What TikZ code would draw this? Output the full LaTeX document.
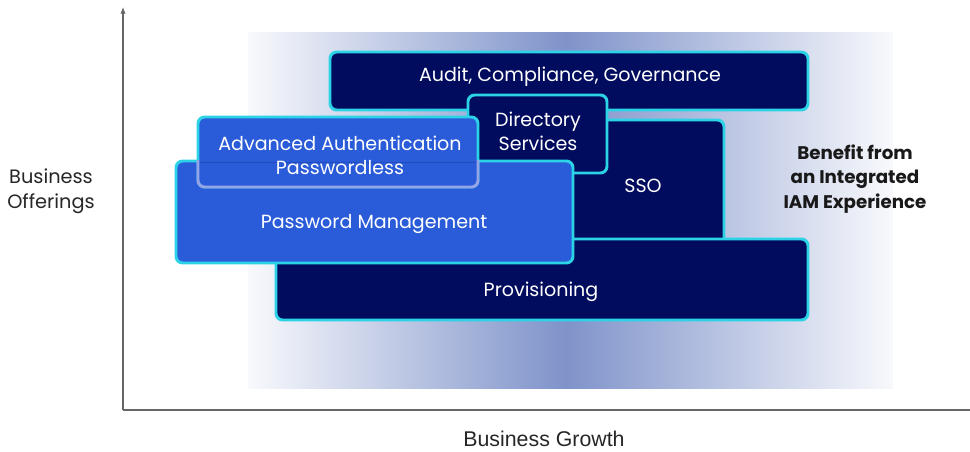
\documentclass[tikz,border=0pt]{standalone}
\usepackage{fontspec}
\setmainfont{Poppins}
\newfontfamily\axisfont{Liberation Sans}
\usetikzlibrary{arrows.meta}
\definecolor{navy}{HTML}{020C5E}
\definecolor{royal}{HTML}{2A5BD8}
\definecolor{aqua}{HTML}{2CD3E7}
\definecolor{haze}{HTML}{7F93CA}
\definecolor{mist}{HTML}{F8F9FC}
\definecolor{lilac}{HTML}{93A5E6}
\tikzset{
  navybox/.style={draw=aqua, fill=navy, line width=2.2pt, rounded corners=5pt},
  bluebox/.style={draw=aqua, fill=royal, line width=2.2pt, rounded corners=5pt},
  boxtext/.style={text=white, font=\fontsize{14.3}{18}\selectfont, align=center},
  axis/.style={draw=black!60, line width=0.8pt},
}
\begin{document}
\begin{tikzpicture}[x=0.75pt, y=-0.75pt]
  \useasboundingbox (0,0) rectangle (970,451);
  % background band
  \shade[left color=mist, right color=haze] (248,32) rectangle (566,388);
  \shade[left color=haze, right color=mist] (565,32) rectangle (893,388);
  % axes
  \coordinate (origin) at (123,410);
  \coordinate (ytop) at (123,7);
  \coordinate (xend) at (972,410);
  \draw[axis, -{Latex[length=5pt,width=4pt]}] (origin) -- (ytop);
  \draw[axis] (origin) -- (xend);
  % layers
  \draw[navybox] (330,52) rectangle (808,110);
  \node[boxtext] (audit) at (570,77) {Audit, Compliance, Governance};
  \draw[navybox] (460,120) rectangle (724,250);
  \node[boxtext] (sso) at (643,186) {SSO};
  \draw[navybox] (468,95) rectangle (607,173);
  \node[boxtext] (dir) at (538,131) {Directory\\Services};
  \draw[navybox] (276,239) rectangle (808,320);
  \node[boxtext] (prov) at (541,292) {Provisioning};
  \draw[bluebox] (176,161) rectangle (573,263);
  \node[boxtext] (pwm) at (374,224) {Password Management};
  \draw[bluebox] (198,117) rectangle (478,187);
  \begin{scope}
    \clip (150,160) rectangle (500,200);
    \draw[bluebox, draw=lilac] (198,117) rectangle (478,187);
  \end{scope}
  \draw[royal!80!navy, line width=0.6pt] (200,162) -- (476,162);
  \node[boxtext] (adv) at (340,155) {Advanced Authentication\\Passwordless};
  % labels
  \node[font=\fontsize{13.7}{18.5}\selectfont\bfseries, align=center, text=black!90] (benefit) at (855,179)
    {Benefit from\\an Integrated\\IAM Experience};
  \node[font=\fontsize{14.5}{18.5}\selectfont, align=center, text=black!85] (yname) at (51,191) {Business\\Offerings};
  \node[font=\axisfont\fontsize{16}{18}\selectfont, text=black!85, inner sep=1pt] (xname) at (544,439) {Business Growth};
\end{tikzpicture}
\end{document}
